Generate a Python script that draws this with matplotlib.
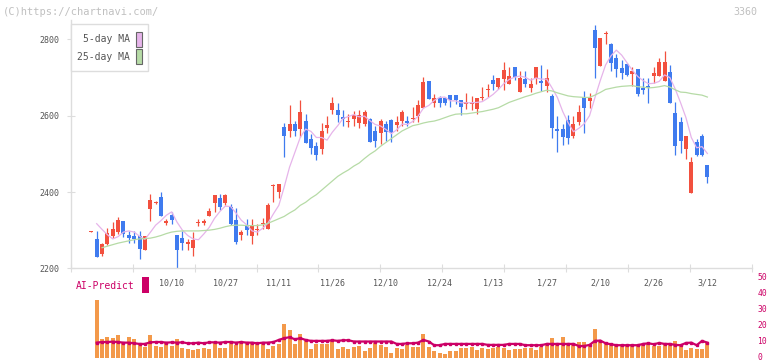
import numpy as np
import matplotlib.pyplot as plt
import matplotlib.transforms as mtransforms
from matplotlib.patches import Rectangle

plt.rcParams['font.family'] = ['DejaVu Sans Mono', 'DejaVu Sans']

nan = np.nan

# daily candles (yen)
opens = [
    2296, 2277, 2237, 2264, 2284, 2295, 2323, 2286, 2284, 2284,
    2247, 2356, 2370, 2388, 2320, 2341, 2286, 2279, 2265, 2253,
    2318, 2320, 2337, 2371, 2384, 2371, 2361, 2326, 2287, 2311,
    2285, 2300, 2317, 2302, 2415, 2400, 2570, 2560, 2579, 2564,
    2585, 2538, 2521, 2513, 2567, 2615, 2616, 2596, 2583, 2591,
    2582, 2578, 2592, 2561, 2554, 2579, 2589, 2576, 2587, 2586,
    2591, 2600, 2620, 2690, 2633, 2647, 2647, 2655, 2655, 2640,
    2632, 2630, 2618, 2647, 2667, 2695, 2676, 2697, 2682, 2729,
    2663, 2697, 2672, 2698, 2690, 2677, 2653, 2564, 2564, 2590,
    2548, 2583, 2649, 2638, 2826, 2731, 2815, 2788, 2752, 2725,
    2736, 2710, 2723, 2673, 2677, 2703, 2705, 2692, 2714, 2608,
    2583, 2512, 2397, 2531, 2548, 2470]
highs = [
    2297, 2297, 2267, 2305, 2322, 2334, 2323, 2298, 2298, 2298,
    2284, 2394, 2376, 2399, 2328, 2348, 2288, 2297, 2277, 2295,
    2329, 2329, 2357, 2391, 2394, 2394, 2368, 2359, 2301, 2328,
    2328, 2317, 2333, 2371, 2422, 2420, 2581, 2629, 2587, 2640,
    2605, 2553, 2531, 2581, 2598, 2649, 2633, 2616, 2605, 2612,
    2614, 2614, 2594, 2574, 2592, 2585, 2591, 2598, 2614, 2598,
    2622, 2640, 2701, 2690, 2657, 2653, 2650, 2655, 2655, 2640,
    2660, 2653, 2646, 2676, 2683, 2708, 2698, 2740, 2727, 2729,
    2716, 2716, 2698, 2729, 2734, 2723, 2656, 2599, 2579, 2601,
    2598, 2627, 2666, 2659, 2839, 2804, 2823, 2790, 2762, 2745,
    2738, 2729, 2723, 2699, 2698, 2727, 2751, 2771, 2732, 2636,
    2596, 2548, 2491, 2538, 2553, 2470]
lows = [
    2296, 2230, 2232, 2260, 2280, 2291, 2282, 2266, 2266, 2224,
    2247, 2324, 2369, 2337, 2313, 2317, 2201, 2247, 2247, 2233,
    2312, 2314, 2337, 2347, 2352, 2365, 2313, 2265, 2273, 2288,
    2263, 2288, 2304, 2302, 2374, 2385, 2493, 2544, 2548, 2544,
    2529, 2499, 2485, 2499, 2554, 2605, 2583, 2574, 2570, 2574,
    2567, 2574, 2531, 2519, 2526, 2533, 2532, 2559, 2572, 2572,
    2583, 2583, 2620, 2644, 2622, 2624, 2628, 2624, 2631, 2603,
    2618, 2614, 2605, 2640, 2649, 2668, 2670, 2668, 2682, 2694,
    2663, 2675, 2662, 2683, 2666, 2663, 2541, 2506, 2522, 2525,
    2541, 2577, 2554, 2621, 2698, 2731, 2788, 2718, 2701, 2697,
    2705, 2677, 2651, 2657, 2634, 2685, 2705, 2692, 2633, 2498,
    2503, 2487, 2397, 2494, 2494, 2423]
closes = [
    2297, 2230, 2263, 2293, 2302, 2326, 2289, 2279, 2277, 2250,
    2284, 2378, 2375, 2337, 2322, 2326, 2247, 2266, 2269, 2275,
    2320, 2322, 2349, 2391, 2362, 2391, 2315, 2268, 2294, 2300,
    2311, 2302, 2319, 2365, 2417, 2420, 2546, 2579, 2560, 2611,
    2529, 2515, 2498, 2561, 2577, 2633, 2602, 2591, 2585, 2603,
    2603, 2611, 2531, 2535, 2587, 2557, 2554, 2583, 2611, 2580,
    2595, 2627, 2688, 2644, 2647, 2633, 2633, 2640, 2640, 2622,
    2634, 2632, 2646, 2649, 2669, 2682, 2698, 2721, 2703, 2701,
    2698, 2683, 2682, 2729, 2686, 2699, 2567, 2559, 2544, 2541,
    2579, 2611, 2620, 2647, 2777, 2804, 2817, 2738, 2723, 2711,
    2708, 2716, 2657, 2668, 2672, 2713, 2742, 2742, 2633, 2520,
    2533, 2548, 2480, 2498, 2498, 2439]

ma5 = [
    nan, 2317, 2302, 2288, 2277, 2283, 2295, 2298, 2295, 2284,
    2276, 2294, 2313, 2325, 2339, 2348, 2321, 2300, 2286, 2277,
    2275, 2290, 2307, 2331, 2349, 2363, 2362, 2345, 2326, 2314,
    2298, 2295, 2305, 2319, 2343, 2365, 2413, 2465, 2504, 2543,
    2565, 2559, 2543, 2543, 2536, 2557, 2574, 2593, 2598, 2603,
    2597, 2599, 2587, 2577, 2573, 2564, 2553, 2563, 2578, 2577,
    2585, 2599, 2620, 2627, 2640, 2648, 2649, 2639, 2639, 2634,
    2634, 2634, 2635, 2637, 2646, 2656, 2669, 2684, 2695, 2701,
    2704, 2701, 2693, 2699, 2696, 2696, 2673, 2648, 2611, 2582,
    2558, 2567, 2579, 2600, 2647, 2692, 2733, 2757, 2772, 2759,
    2739, 2719, 2703, 2692, 2684, 2685, 2690, 2707, 2700, 2670,
    2634, 2595, 2543, 2516, 2519, 2501]
ma25 = [
    nan, nan, 2254, 2258, 2262, 2266, 2269, 2272, 2275, 2277,
    2278, 2279, 2282, 2286, 2291, 2295, 2297, 2298, 2298, 2298,
    2298, 2299, 2300, 2302, 2305, 2309, 2312, 2313, 2313, 2312,
    2312, 2312, 2314, 2318, 2324, 2330, 2336, 2345, 2353, 2365,
    2373, 2384, 2393, 2405, 2417, 2429, 2441, 2450, 2458, 2468,
    2476, 2488, 2499, 2508, 2520, 2530, 2540, 2550, 2560, 2567,
    2574, 2577, 2581, 2584, 2586, 2590, 2595, 2600, 2604, 2605,
    2605, 2607, 2609, 2611, 2614, 2617, 2621, 2628, 2635, 2640,
    2645, 2650, 2654, 2659, 2663, 2667, 2665, 2660, 2656, 2652,
    2650, 2649, 2648, 2648, 2654, 2661, 2669, 2672, 2675, 2677,
    2678, 2679, 2676, 2675, 2673, 2674, 2676, 2679, 2675, 2668,
    2662, 2661, 2658, 2656, 2654, 2649]

# AI-Predict panel (starts at the second candle)
ai_bars = [
    36.0, 11.9, 13.2, 12.6, 14.5, 10.3, 13.2, 11.9, 8.8, 6.9,
    14.5, 7.5, 6.9, 9.4, 7.5, 11.9, 6.3, 5.7, 5.0, 5.7,
    6.3, 5.7, 9.4, 6.3, 6.3, 10.7, 8.2, 10.7, 9.4, 9.4,
    9.4, 9.4, 5.7, 7.5, 8.8, 21.4, 17.6, 8.8, 15.1, 11.9,
    5.7, 8.8, 8.8, 8.8, 10.7, 5.7, 6.9, 5.7, 6.9, 7.5,
    4.4, 6.3, 9.4, 8.2, 6.8, 3.1, 6.3, 5.7, 8.2, 6.9,
    6.9, 15.1, 6.9, 4.4, 3.1, 2.5, 4.4, 4.4, 6.3, 6.3,
    6.9, 5.0, 6.3, 5.7, 6.3, 6.9, 6.3, 5.0, 5.7, 5.7,
    6.3, 6.3, 5.0, 6.9, 8.2, 12.6, 9.4, 13.2, 8.8, 8.2,
    10.1, 10.1, 8.2, 18.2, 10.7, 10.1, 8.2, 7.5, 7.5, 8.2,
    8.2, 8.2, 8.2, 8.8, 7.5, 7.5, 8.8, 8.2, 10.7, 7.5,
    5.0, 6.3, 5.7, 5.7, 9.4]
ai_line = [
    9.6, 10.0, 10.0, 10.2, 10.0, 9.6, 9.6, 9.2, 8.8, 8.8,
    9.8, 10.0, 10.0, 9.6, 9.8, 9.6, 9.8, 9.2, 9.2, 9.6,
    9.2, 9.8, 9.8, 9.6, 10.0, 10.0, 9.6, 10.0, 9.6, 9.6,
    9.2, 9.6, 9.6, 10.0, 11.3, 12.4, 13.0, 11.7, 12.4, 11.3,
    10.7, 10.7, 10.7, 10.7, 11.1, 10.7, 11.1, 11.1, 10.3, 10.3,
    10.3, 10.3, 10.3, 10.3, 10.3, 10.3, 8.8, 8.8, 9.2, 9.2,
    9.6, 11.3, 10.3, 8.0, 8.0, 8.8, 8.8, 8.8, 8.8, 8.8,
    8.8, 8.8, 8.8, 8.2, 8.2, 8.2, 8.2, 8.8, 8.8, 8.8,
    8.0, 8.0, 8.0, 8.0, 8.8, 8.8, 8.8, 8.8, 8.8, 8.8,
    7.5, 7.5, 8.2, 10.7, 10.9, 9.2, 8.6, 8.0, 8.0, 8.0,
    8.0, 8.0, 8.8, 9.2, 8.6, 9.4, 8.8, 8.8, 8.2, 8.0,
    9.4, 9.6, 8.0, 10.7, 9.6]

date_labels = ['10/10', '10/27', '11/11', '11/26', '12/10', '12/24',
               '1/13', '1/27', '2/10', '2/26', '3/12']
date_pos = [15, 25, 35, 45, 55, 65, 75, 85, 95, 105, 115]

RED = '#f2503e'
BLUE = '#3f7bef'
PINK = '#e6b4ea'
GREEN = '#b6dba6'
MAG = '#cc0066'
ORANGE = '#f3994a'
GRID = '#dddddd'
TXT = '#555555'


def fx(px):
    return px / 772


def fy(py):
    return 1 - py / 361


fig = plt.figure(figsize=(7.72, 3.61), dpi=100)

XL = (-3.85, 123.33)

# price panel
ax = fig.add_axes([fx(70.7), fy(268.3), fx(752) - fx(70.7), fy(20) - fy(268.3)])
days = np.arange(len(closes))
o = np.array(opens, float)
c = np.array(closes, float)
cols = np.where(c >= o, RED, BLUE)
ax.vlines(days, lows, highs, colors=cols, lw=0.9, zorder=2)
body_lo = np.minimum(o, c)
body_h = np.maximum(np.abs(c - o), 2.8)
ax.bar(days, body_h, bottom=body_lo, width=0.75, color=cols, linewidth=0, zorder=2)
ax.plot(days, ma5, color=PINK, lw=0.9, zorder=3)
ax.plot(days, ma25, color=GREEN, lw=0.9, zorder=3)

ax.set_xlim(*XL)
ax.set_ylim(2200, 2851)
ax.set_yticks([2200, 2400, 2600, 2800])
ax.set_xticks(date_pos)
ax.set_xticklabels(date_labels)
ax.set_xticks(np.linspace(XL[0], XL[1], 12), minor=True)
ax.tick_params(axis='x', which='major', length=0, pad=7, labelsize=6, labelcolor=TXT)
ax.tick_params(axis='x', which='minor', direction='inout', length=6, width=0.8, color=GRID)
ax.tick_params(axis='y', direction='inout', length=6, width=0.8, color=GRID,
               labelsize=6, labelcolor=TXT, pad=5)
for s in ['top', 'right']:
    ax.spines[s].set_visible(False)
for s in ['left', 'bottom']:
    ax.spines[s].set_color(GRID)
    ax.spines[s].set_linewidth(1)

# legend box
fig.add_artist(Rectangle((fx(70.7), fy(71)), fx(148) - fx(70.7), fy(24) - fy(71),
                         transform=fig.transFigure, facecolor='white',
                         edgecolor=GRID, lw=1, zorder=5))
for label, col, ty in [('5-day MA', PINK, 39.5), ('25-day MA', GREEN, 56.5)]:
    fig.text(fx(130), fy(ty), label, ha='right', va='center', fontsize=7,
             color=TXT, zorder=6)
    fig.add_artist(Rectangle((fx(136), fy(ty + 7.5)), fx(6), fy(0) - fy(15),
                             transform=fig.transFigure, facecolor=col,
                             edgecolor='#666666', lw=0.8, zorder=6))

# AI-Predict panel
ax2 = fig.add_axes([fx(70.7), fy(358), fx(752) - fx(70.7), fy(278) - fy(358)])
ai_days = np.arange(1, len(ai_bars) + 1)
ax2.bar(ai_days, ai_bars, width=0.75, color=ORANGE, linewidth=0)
ax2.plot(ai_days, ai_line, color=MAG, lw=1.6, marker='s', markersize=1.8, zorder=3)
ax2.set_xlim(*XL)
ax2.set_ylim(0, 50)
ax2.set_xticks([])
ax2.yaxis.tick_right()
ax2.set_yticks([0, 10, 20, 30, 40, 50])
ax2.tick_params(axis='y', length=0, pad=4, labelsize=5.8, labelcolor=MAG)
shift = mtransforms.ScaledTranslation(0, 1.5 / 100, fig.dpi_scale_trans)
for lab in ax2.get_yticklabels():
    lab.set_transform(lab.get_transform() + shift)
for s in ax2.spines.values():
    s.set_visible(False)
ax2.patch.set_alpha(0)

fig.text(fx(76), fy(286), 'AI-Predict', ha='left', va='center', fontsize=7, color=MAG)
fig.add_artist(Rectangle((fx(142), fy(292.7)), fx(6.7), fy(0) - fy(16),
                         transform=fig.transFigure, facecolor=MAG, lw=0))

# watermark and code
fig.text(fx(3), fy(12), '(C)https://chartnavi.com/', ha='left', va='center',
         fontsize=7.5, color='#c0c0c0')
fig.text(fx(757), fy(12), '3360', ha='right', va='center', fontsize=7.2, color='#c0c0c0')

fig.savefig('out.png', dpi=100)
